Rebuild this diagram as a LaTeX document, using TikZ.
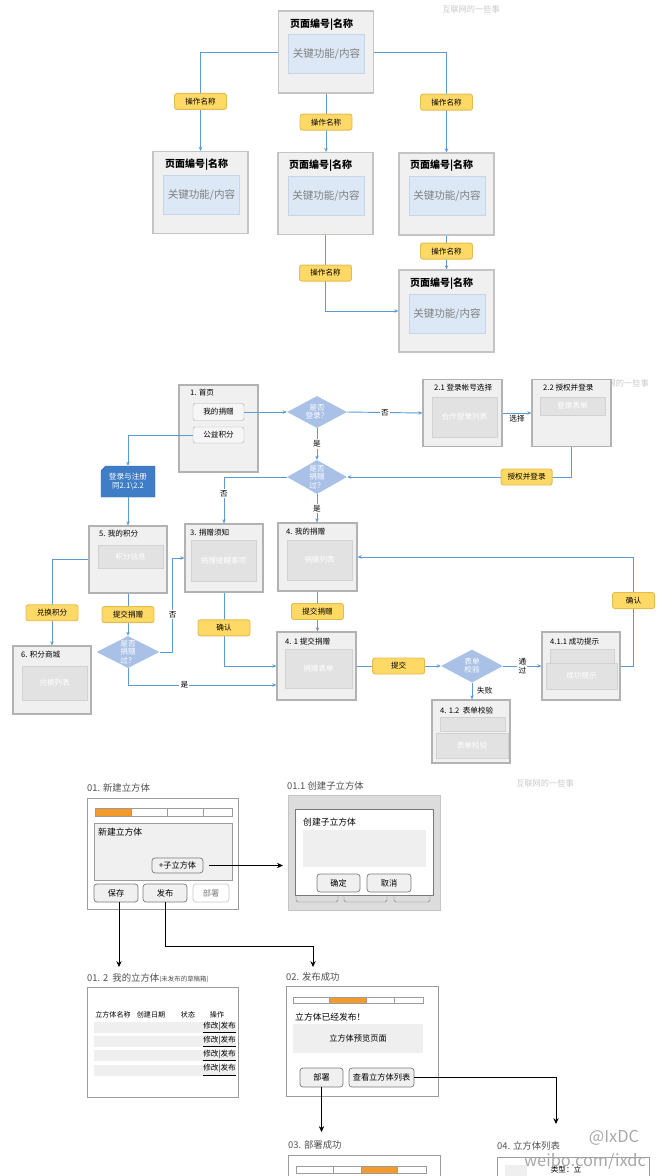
\documentclass[tikz,border=0pt]{standalone}
\usepackage{fontspec}
\setmainfont{Noto Sans CJK SC}
\usetikzlibrary{arrows.meta,shapes.geometric,shapes.misc,calc}
\newcommand{\pxu}{0.03cm}
\definecolor{flw}{HTML}{5B9BD5}
\definecolor{opbg}{HTML}{FFD966}
\definecolor{opln}{HTML}{E3BC4F}
\definecolor{pgbg}{HTML}{F0F0F0}
\definecolor{pgln}{HTML}{C4C4C4}
\definecolor{kfbg}{HTML}{DCE8F5}
\definecolor{kfln}{HTML}{C6D5E8}
\definecolor{kftx}{HTML}{808080}
\definecolor{sbln}{HTML}{B2B2B2}
\definecolor{ibbg}{HTML}{E2E2E2}
\definecolor{ibln}{HTML}{D2D2D2}
\definecolor{dmbg}{HTML}{A9C1E6}
\definecolor{docbg}{HTML}{3F7EC6}
\definecolor{orng}{HTML}{F39A2B}
\definecolor{wmk}{HTML}{C8C8C8}
\definecolor{inp}{HTML}{EFEFEF}
\definecolor{wfln}{HTML}{9C9C9C}
\definecolor{gbg}{HTML}{DCDCDC}
\definecolor{btln}{HTML}{7A7A7A}
\definecolor{wtx}{HTML}{505050}
\definecolor{hbbg}{HTML}{F6F6F6}
\definecolor{wbtx}{HTML}{A8A8A8}

\begin{document}
\begin{tikzpicture}[x=0.03cm,y=-0.03cm]
  \tikzset{
    pg/.style 2 args={draw=pgln,fill=pgbg,line width=1pt,minimum width=#1*\pxu,minimum height=#2*\pxu,inner sep=0pt},
    kf/.style={draw=kfln,fill=kfbg,text=kftx,minimum width=76*\pxu,minimum height=39*\pxu,inner sep=0pt,font=\fontsize{9}{11}\selectfont},
    ttl/.style={anchor=west,inner sep=0pt,font=\bfseries\fontsize{8.5}{10}\selectfont},
    op/.style={draw=opln,fill=opbg,rounded corners=2pt,minimum width=52*\pxu,minimum height=16*\pxu,inner sep=0pt,font=\fontsize{6.5}{8}\selectfont},
    fl/.style={draw=flw,line width=0.8pt,-{Stealth[length=3.5pt,width=3pt]}},
    sb/.style 2 args={draw=sbln,fill=pgbg,line width=1pt,minimum width=#1*\pxu,minimum height=#2*\pxu,inner sep=0pt},
    ib/.style 2 args={draw=ibln,fill=ibbg,text=white,minimum width=#1*\pxu,minimum height=#2*\pxu,inner sep=0pt,font=\fontsize{6.5}{8}\selectfont},
    tt/.style={anchor=west,inner sep=0pt,font=\fontsize{6.5}{8}\selectfont},
    dm/.style 2 args={diamond,aspect=1.9,fill=dmbg,text=white,align=center,minimum width=#1*\pxu,minimum height=#2*\pxu,inner sep=0pt,font=\fontsize{6.5}{7}\selectfont},
    yn/.style={fill=white,inner sep=1pt,font=\fontsize{6.5}{7.5}\selectfont,align=center},
    hb/.style 2 args={draw=sbln,fill=hbbg,rounded corners=2pt,minimum width=#1*\pxu,minimum height=#2*\pxu,inner sep=0pt,font=\fontsize{6.5}{8}\selectfont},
    wm/.style={text=wmk,inner sep=0pt,font=\fontsize{7}{8}\selectfont},
    wt/.style={anchor=west,inner sep=0pt,text=wtx,font=\fontsize{8}{9}\selectfont},
    wf/.style 2 args={draw=wfln,fill=white,line width=0.7pt,minimum width=#1*\pxu,minimum height=#2*\pxu,inner sep=0pt},
    wx/.style={anchor=west,inner sep=0pt,font=\fontsize{7.5}{9}\selectfont},
    btn/.style 2 args={draw=btln,fill=pgbg,rounded corners=2.5pt,line width=0.6pt,minimum width=#1*\pxu,minimum height=#2*\pxu,inner sep=0pt,font=\fontsize{7}{8}\selectfont},
    wr/.style={draw=black,line width=0.6pt,-{Stealth[length=5pt,width=4.5pt]}},
    lk/.style={anchor=east,inner sep=0pt,font=\fontsize{6.5}{7}\selectfont},
    wb/.style={text=wbtx,inner sep=0pt,font=\fontsize{14}{15}\selectfont}
  }
  \useasboundingbox (0,0) rectangle (658,1176);

  \node[wm] (wm1) at (471,9) {互联网的一些事};
  \node[pg={95}{82}] (top) at (326,52) {};
  \node[ttl] (top-t) at (290,25) {页面编号|名称};
  \node[kf] (top-k) at (326.5,53.5) {关键功能/内容};
  \node[pg={95}{82}] (lft) at (200.5,192.5) {};
  \node[ttl] (lft-t) at (165,165) {页面编号|名称};
  \node[kf] (lft-k) at (201.5,194.5) {关键功能/内容};
  \node[pg={95}{82}] (mid) at (325.5,193.5) {};
  \node[ttl] (mid-t) at (289,166) {页面编号|名称};
  \node[kf] (mid-k) at (326,195.5) {关键功能/内容};
  \node[pg={95}{82}] (rgt) at (446.5,194) {};
  \node[ttl] (rgt-t) at (410,166) {页面编号|名称};
  \node[kf] (rgt-k) at (447,196) {关键功能/内容};
  \node[pg={95}{82}] (btm) at (446.5,311) {};
  \node[ttl] (btm-t) at (410,284) {页面编号|名称};
  \node[kf] (btm-k) at (447,313.5) {关键功能/内容};
  \draw[fl] (top.west) -| node[op,pos=.75] (o1) {操作名称} (lft.north);
  \draw[fl] (top.south) -- node[op,pos=.49] (o2) {操作名称} (top.south |- mid.north);
  \draw[fl] (top.east) -| node[op,pos=.75] (o3) {操作名称} (rgt.north);
  \draw[fl] (rgt.south) -- node[op,pos=.46] (o4) {操作名称} (btm.north);
  \draw[fl] (mid.south) |- node[op,pos=.25] (o5) {操作名称} (btm.west);

  % donation flow
  \node[wm] (wm2) at (620,383) {互联网的一些事};
  \node[sb={79}{87}] (b1) at (218.5,428.5) {};
  \node[tt] (b1-t) at (190,393) {1. 首页};
  \node[hb={51}{17}] (don) at (218.5,412) {我的捐赠};
  \node[hb={51}{16}] (pts) at (218.5,435) {公益积分};
  \node[dm={60}{32}] (d1) at (317,412) {是否\\登录？};
  \node[sb={79}{67}] (b21) at (462.5,413) {};
  \node[tt] (b21-t) at (434,388) {2.1 登录帐号选择};
  \node[ib={65}{40}] (b21-i) at (464.5,417) {合作登录列表};
  \node[sb={79}{67}] (b22) at (571.5,413) {};
  \node[tt] (b22-t) at (543,388) {2.2 授权并登录};
  \node[ib={65}{18}] (b22-i) at (572.5,406) {登录表单};
  \node[dm={60}{34}] (d2) at (317,477) {是否\\捐赠\\过？};
  \node[chamfered rectangle,chamfered rectangle corners=north west,chamfered rectangle xsep=2pt,chamfered rectangle ysep=2pt,
        fill=docbg,draw=docbg!80!black,text=white,align=center,minimum width=54*\pxu,minimum height=31*\pxu,inner sep=0pt,
        font=\fontsize{6.5}{8}\selectfont] (doc) at (128,481.5) {登录与注册\\同2.1\textbackslash 2.2};
  \node[sb={78}{67}] (b5) at (128,559.5) {};
  \node[tt] (b5-t) at (99,534) {5. 我的积分};
  \node[ib={65}{23}] (b5-i) at (130.5,556.5) {积分信息};
  \node[sb={78}{68}] (b3) at (224,558) {};
  \node[tt] (b3-t) at (190,533) {3. 捐赠须知};
  \node[ib={65}{41}] (b3-i) at (223.5,560.5) {捐赠提醒事项};
  \node[sb={79}{68}] (b4) at (317.5,557) {};
  \node[tt] (b4-t) at (286,532) {4. 我的捐赠};
  \node[ib={65}{40}] (b4-i) at (319.5,560) {捐赠列表};
  \node[dm={63}{32}] (d3) at (128,652) {是否\\捐赠\\过？};
  \node[sb={78}{68}] (b6) at (52,680) {};
  \node[tt] (b6-t) at (21,655) {6. 积分商城};
  \node[ib={65}{34}] (b6-i) at (54.5,683) {兑换列表};
  \node[sb={79}{68}] (b41) at (316.5,666) {};
  \node[tt] (b41-t) at (285,642) {4. 1 提交捐赠};
  \node[ib={67}{39}] (b41-i) at (318.5,668.5) {捐赠表单};
  \node[dm={62}{33}] (d4) at (472,666) {表单\\校验};
  \node[sb={78}{68}] (b411) at (581,666) {};
  \node[tt] (b411-t) at (550,642) {4.1.1 成功提示};
  \node[ib={64}{15}] (b411-a) at (582,656.5) {};
  \node[ib={71}{26}] (b411-i) at (581.5,676) {成功提示};
  \node[sb={78}{63}] (b412) at (471,731.5) {};
  \node[tt] (b412-t) at (440,711) {4. 1.2\ \ 表单校验};
  \node[ib={65}{14}] (b412-a) at (472.5,724) {};
  \node[ib={72}{25}] (b412-i) at (472,745.5) {表单校验};

  \draw[fl] (don.east) -- (d1.west);
  \draw[fl] (d1.east) -- node[yn] (n1) {否} (b21.west);
  \draw[fl] (b21.east) -- node[below,yn,fill=none] (n2) {选择} (b22.west);
  \draw[fl] (b22.south) |- node[op,pos=.6,minimum width=51*\pxu] (o6) {授权并登录} (d2.east);
  \draw[fl] (d1.south) -- node[yn] (n3) {是} (d2.north);
  \draw[fl] (d2.west) -| node[yn,pos=.68] (n4) {否} (b3.north);
  \draw[fl] (d2.south) -- node[yn] (n5) {是} (d2.south |- b4.north);
  \draw[fl] (pts.west) -| (doc.north);
  \draw[fl] (doc.south) -- (b5.north);
  \draw[fl] (b5.west) -| node[op,pos=.81] (o7) {兑换积分} (b6.north);
  \draw[fl] (b5.south) -- node[op] (o8) {提交捐赠} (d3.north);
  \draw[fl] (d3.east) -- ++(13,0) |- node[yn,pos=.2] (n6) {否} (b3.west);
  \draw[fl] (d3.south) |- node[yn,pos=.69] (n7) {是} ($(b41.west)+(0,19)$);
  \draw[fl] (b3.south) |- node[op,pos=.24] (o9) {确认} (b41.west);
  \draw[fl] (b4.south) -- node[op] (o10) {提交捐赠} (b4.south |- b41.north);
  \draw[fl] (b41.east) -- node[op] (o11) {提交} (d4.west);
  \draw[fl] (d4.east) -- node[yn] (n8) {通\\过} (b411.west);
  \draw[fl] (d4.south) -- node[right=3pt,yn,fill=none] (n9) {失败} (d4.south |- b412.north);
  \draw[fl] (b411.east) -- ++(13,0) |- node[op,pos=.3,minimum width=42*\pxu] (o12) {确认} (b4.east);

  % cube wireframes
  \node[wm] (wm3) at (545,783) {互联网的一些事};
  \node[wt] (t01) at (87,788) {01. 新建立方体};
  \node[wf={151}{111}] (f01) at (162.5,853.5) {};
  \foreach \a/\b/\c in {95/131/orng,131/167/white,167/203/white,203/232/white}
    \draw[draw=wfln,fill=\c] (\a,808) rectangle (\b,816);
  \node[wf={138}{57},fill=pgbg] (p01) at (163,851.5) {};
  \node[wx] (p01-t) at (98,832) {新建立方体};
  \node[btn={51}{15}] (sub) at (177.5,865.5) {+子立方体};
  \node[btn={44}{18}] (sav) at (116,893) {保存};
  \node[btn={44}{18}] (pub) at (165,893) {发布};
  \node[btn={36}{18},draw=wmk,fill=white,text=kftx] (dep) at (211,893) {部署};

  \node[wt] (t011) at (287,786) {01.1 创建子立方体};
  \node[wf={152}{115},fill=gbg,draw=pgln] (f011) at (364,852.5) {};
  \foreach \a/\b in {296/338,344/387,394/430}
    \draw[draw=kftx,rounded corners=1.5pt] (\a,893) -- (\a,902) -- (\b,902) -- (\b,893);
  \node[wf={138}{86},draw=btln] (dlg) at (364,852) {};
  \node[wx] (dlg-t) at (303,822) {创建子立方体};
  \node[fill=inp,minimum width=123*\pxu,minimum height=37*\pxu,inner sep=0pt] (inp) at (364.5,848.5) {};
  \node[btn={43}{18}] (ok) at (338.5,883) {确定};
  \node[btn={44}{18}] (cc) at (389,883) {取消};
  \draw[wr,shorten <=5pt,shorten >=4pt] (sub.east) -- (f011.west |- sub.east);

  \coordinate (c012) at (119,967);
  \coordinate (c02) at (313,967);
  \draw[wr] (sav.south -| c012) -- (c012);
  \draw[wr] (pub.south) -- ++(0,44) -| (c02);

  \node[wt] (t012) at (87,978) {01. 2\ \ 我的立方体{\fontsize{5.5}{6}\selectfont(未发布的草稿箱)}};
  \node[wf={151}{110}] (f012) at (162.5,1042) {};
  \foreach \x/\t [count=\i] in {113/立方体名称,151/创建日期,188/状态,217/操作}
    \node[inner sep=0pt,font=\fontsize{6}{7}\selectfont] (h\i) at (\x,1015) {\t};
  \foreach \y [count=\i] in {1027.5,1041.5,1055.5,1070}{
    \fill[inp] (94,\y-5.5) rectangle (236,\y+5.5);
    \node[lk] (r\i) at (236,\y) {\underline{修改|发布}};
  }

  \node[wt] (t02) at (286,977) {02. 发布成功};
  \node[wf={152}{110}] (f02) at (362,1041) {};
  \foreach \a/\b/\c in {293/329/white,329/366/orng,366/394/white,394/423/white}
    \draw[draw=wfln,fill=\c] (\a,997) rectangle (\b,1003);
  \node[wx] (f02-t) at (295,1017) {立方体已经发布！};
  \node[fill=inp,minimum width=130*\pxu,minimum height=29*\pxu,inner sep=0pt,font=\fontsize{7}{8}\selectfont] (pv) at (358,1038.5) {立方体预览页面};
  \node[btn={43}{19}] (dep2) at (321.5,1077.5) {部署};
  \node[btn={65}{19}] (lst) at (381.5,1077.5) {查看立方体列表};
  \coordinate (c03) at (321.5,1132);
  \coordinate (c04) at (556,1124);
  \draw[wr] (dep2.south) -- (c03);
  \draw[wr] (lst.east) -| (c04);

  \node[wt] (t03) at (288,1145) {03. 部署成功};
  \node[wf={152}{50}] (f03) at (364,1180) {};
  \foreach \a/\b/\c in {296/333/white,333/361/white,361/397/orng,397/426/white}
    \draw[draw=wfln,fill=\c] (\a,1166) rectangle (\b,1173);

  \node[wt] (t04) at (497,1146) {04. 立方体列表};
  \node[wf={152}{50}] (f04) at (573,1182) {};
  \fill[inp] (505,1165) rectangle (527,1185);
  \node[inner sep=0pt,font=\fontsize{6.5}{7}\selectfont] (f04-t) at (566,1170) {类型：立};

  \node[wb] (wb1) at (614,1138) {@IxDC};
  \node[wb] (wb2) at (585,1161) {weibo.com/ixdc};
\end{tikzpicture}
\end{document}
